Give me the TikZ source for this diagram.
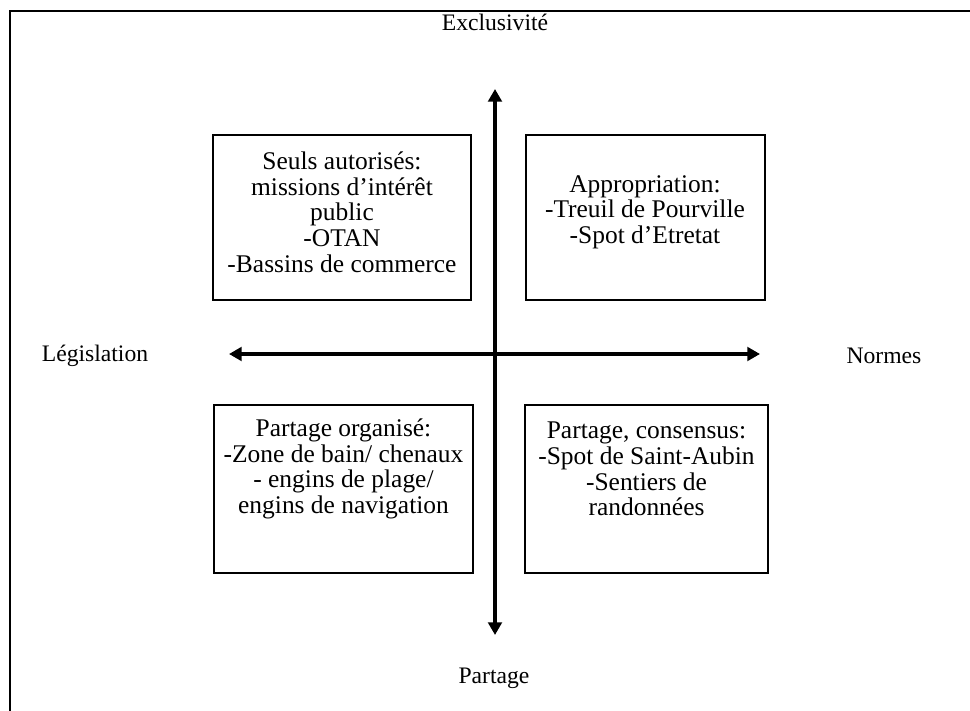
\documentclass[tikz,border=0pt]{standalone}
\usepackage{fontspec}
\setmainfont{Liberation Serif}
\usetikzlibrary{arrows.meta, positioning}

\begin{document}
\begin{tikzpicture}[
    x=0.55pt, y=-0.55pt,
    font=\fontsize{13}{14}\selectfont,
    quad/.style={draw, line width=0.8pt, minimum height=#1},
    quad/.default=90.75pt,
    txt/.style={align=center, inner sep=0pt, font=\fontsize{14}{14.1}\selectfont},
    axis/.style={{Triangle[length=7pt, width=7.5pt]}-{Triangle[length=7pt, width=7.5pt]}, line width=2.2pt},
]
\useasboundingbox (0,0) rectangle (970,711);
\clip (0,0) rectangle (970,711);

% --- cadre ---
\draw[line width=1.1pt] (10,11) rectangle (990,730);

% --- axes ---
\coordinate (haut) at (495,89);
\coordinate (bas) at (495,635);
\coordinate (gauche) at (229,354);
\coordinate (droite) at (760,354);
\draw[axis] (bas) -- (haut);
\draw[axis] (gauche) -- (droite);

\node (excl) at (495,22) {Exclusivité};
\node (part) at (494,678) {Partage};
\node (legis) at (95,356) {Législation};
\node (norm) at (884,356) {Normes};

% ================= haut gauche =================
\node[quad, minimum width=141.9pt] (tl) at (342,217.5) {};
\node[txt] (tltext) at (342,212)
    {Seuls autorisés:\\ missions d’intérêt\\ public\\ -OTAN\\ -Bassins de commerce};

% ================= haut droite =================
\node[quad, minimum width=131.45pt] (tr) at (645.5,217.5) {};
\node[txt] (trtext) at (645,212)
    {Appropriation:\\ -Treuil de Pourville\\ -Spot d’Etretat};

% ================= bas gauche =================
\node[quad=92.4pt, minimum width=142.45pt] (bl) at (343.5,489) {};
\node[txt] (bltext) at (343.5,469)
    {Partage organisé:\\ -Zone de bain/ chenaux\\ - engins de plage/\\ engins de navigation};

% ================= bas droite =================
\node[quad=92.4pt, minimum width=133.65pt] (br) at (646.5,489) {};
\node[txt] (brtext) at (646.5,469)
    {Partage, consensus:\\ -Spot de Saint-Aubin\\ -Sentiers de\\ randonnées};

\end{tikzpicture}
\end{document}
